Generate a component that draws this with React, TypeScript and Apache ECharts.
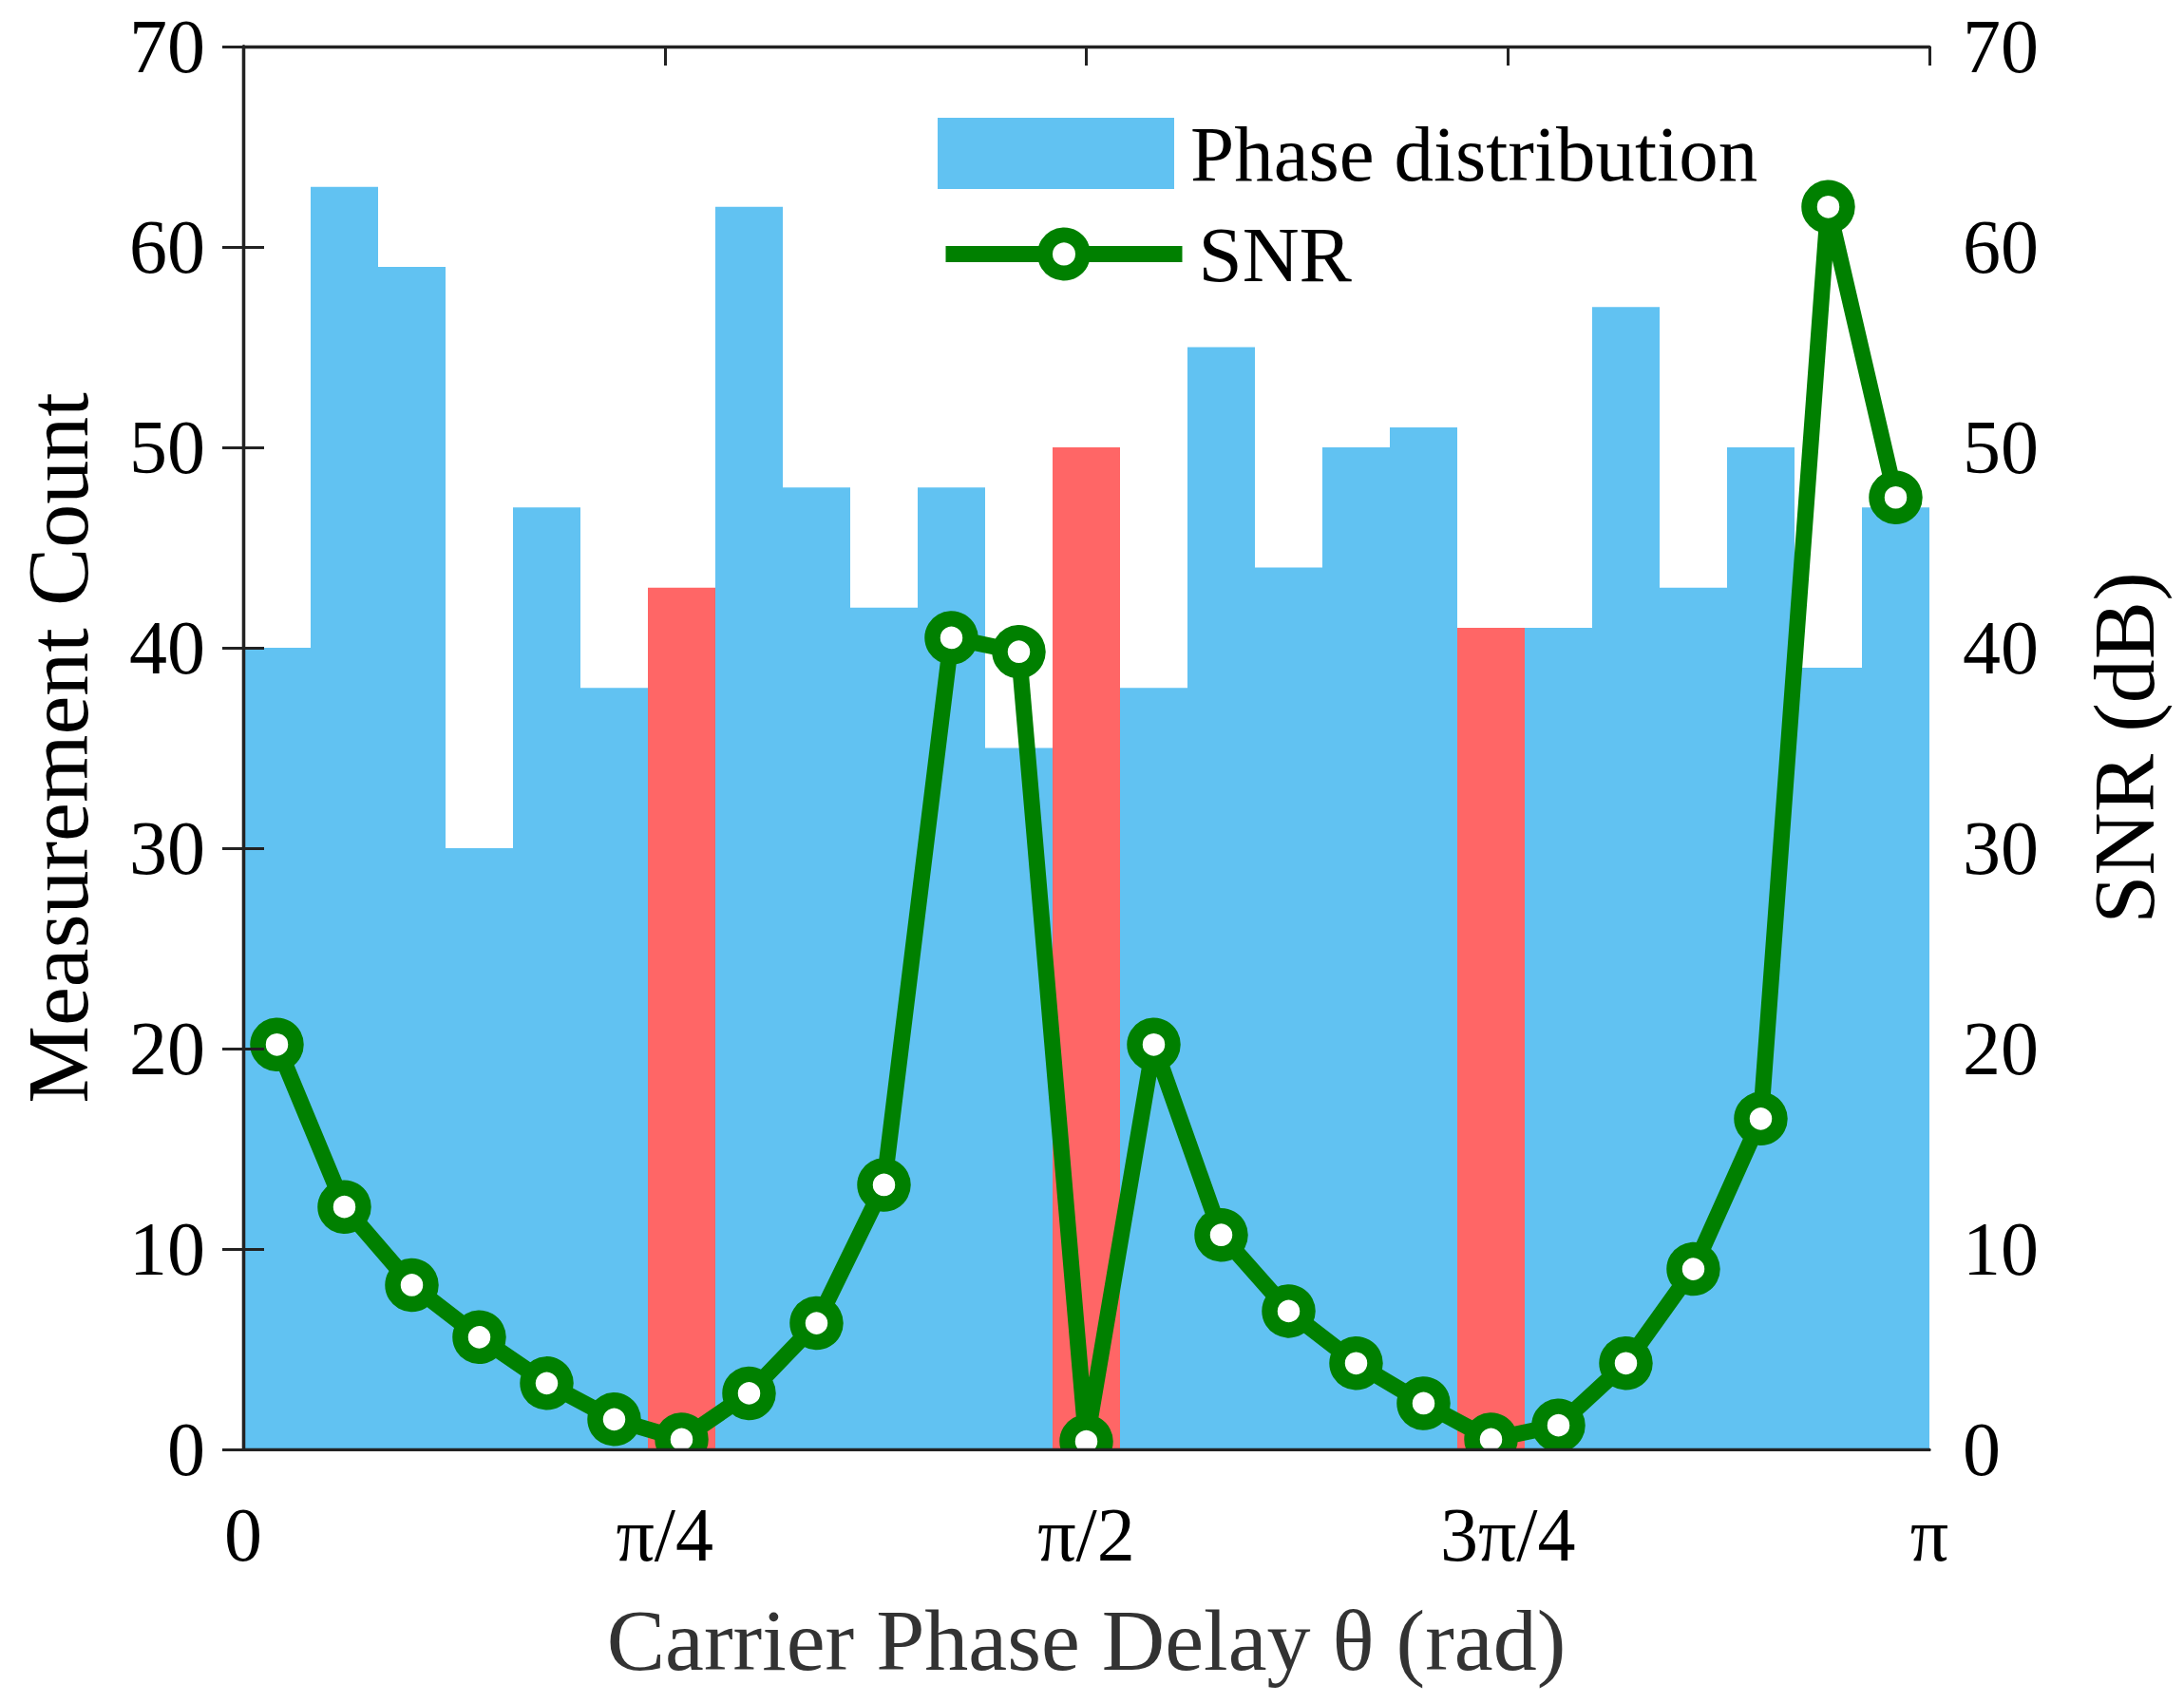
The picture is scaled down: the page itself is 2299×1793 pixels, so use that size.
import { useEffect, useRef } from 'react';
import * as echarts from 'echarts';

// histogram of measured carrier phase, 25 bins over [0, π]
const binLabels = Array.from({ length: 25 }, (_, i) => String(i + 1));
const phaseCounts = [40, 63, 59, 30, 47, 38, 43, 62, 48, 42, 48, 35, 50, 38, 55, 44, 50, 51, 41, 41, 57, 43, 50, 39, 47];
const nullBins = [6, 12, 18];
const snrDb = [20.2, 12.1, 8.2, 5.6, 3.3, 1.5, 0.5, 2.8, 6.3, 13.2, 40.5, 39.8, 0.4, 20.2, 10.7, 6.9, 4.3, 2.3, 0.5, 1.2, 4.3, 9.0, 16.5, 62.0, 47.5];
const phaseTickLabels = ['0', 'π/4', 'π/2', '3π/4', 'π'];

const FONT = "'Liberation Serif', 'Times New Roman', serif";
const BLUE = '#61c2f2';
const RED = '#ff6666';
const GREEN = '#008000';
const AXIS = '#222222';

export default function App() {
  const chartRef = useRef<HTMLDivElement>(null);

  useEffect(() => {
    if (!chartRef.current) return;
    const chart = echarts.init(chartRef.current, null, { renderer: 'svg' });

    const barData = phaseCounts.map((v, i) =>
      nullBins.includes(i) ? { value: v, itemStyle: { color: RED } } : v
    );

    const option: echarts.EChartsOption = {
      animation: false,
      backgroundColor: '#ffffff',
      textStyle: { fontFamily: FONT },
      grid: { left: 256, top: 49, width: 1775, height: 1477, containLabel: false },
      // markers sitting on zero are cut at the axis, as in the original plot
      graphic: [
        {
          type: 'rect',
          shape: { x: 230, y: 1528, width: 1830, height: 40 },
          style: { fill: '#ffffff' },
          z: 100,
        },
      ],
      legend: [
        {
          data: [{ name: 'Phase distribution', icon: 'rect' }],
          left: 987,
          top: 120,
          padding: 0,
          itemWidth: 249,
          itemHeight: 75,
          textStyle: { fontSize: 83, color: '#000', fontFamily: FONT, padding: [0, 0, 0, 12] },
        },
        {
          data: ['SNR'],
          left: 987,
          top: 226,
          padding: 0,
          itemWidth: 249,
          itemHeight: 50,
          itemStyle: { borderWidth: 16, borderColor: GREEN, color: '#fff' },
          lineStyle: { width: 17, color: GREEN },
          textStyle: { fontSize: 83, color: '#000', fontFamily: FONT, padding: [0, 0, 0, 12] },
        },
      ],
      xAxis: [
        {
          type: 'category',
          data: binLabels,
          position: 'bottom',
          z: 5,
          axisLine: { show: true, lineStyle: { color: AXIS, width: 3.3 } },
          axisTick: { show: false },
          axisLabel: { show: false },
          splitLine: { show: false },
        },
        {
          type: 'value',
          min: 0,
          max: 4,
          interval: 1,
          position: 'bottom',
          axisLine: { show: false },
          axisTick: { show: false },
          splitLine: { show: false },
          axisLabel: {
            fontSize: 80,
            color: '#000',
            fontFamily: FONT,
            margin: 50,
            formatter: (v: number) => phaseTickLabels[Math.round(v)] ?? '',
          },
          name: 'Carrier Phase Delay θ (rad)',
          nameLocation: 'middle',
          nameGap: 155,
          nameTextStyle: { fontSize: 92, color: '#333', fontFamily: FONT },
        },
        {
          type: 'value',
          min: 0,
          max: 4,
          interval: 1,
          position: 'top',
          z: 5,
          axisLine: { show: true, lineStyle: { color: AXIS, width: 3.3 } },
          axisTick: { show: true, inside: true, length: 20, lineStyle: { color: AXIS, width: 3 } },
          axisLabel: { show: false },
          splitLine: { show: false },
        },
      ],
      yAxis: [
        {
          type: 'value',
          min: 0,
          max: 70,
          interval: 10,
          position: 'left',
          z: 5,
          axisLine: { show: true, lineStyle: { color: AXIS, width: 3.3 } },
          axisTick: { show: true, inside: true, length: 22, lineStyle: { color: AXIS, width: 3 } },
          splitLine: { show: false },
          axisLabel: { fontSize: 80, color: '#000', fontFamily: FONT, margin: 40, padding: [6, 0, 0, 0] },
          name: 'Measurement Count',
          nameLocation: 'middle',
          nameGap: 149,
          nameTextStyle: { fontSize: 92, color: '#000', fontFamily: FONT },
        },
        {
          type: 'value',
          min: 0,
          max: 70,
          interval: 10,
          position: 'right',
          z: 5,
          axisLine: { show: true, lineStyle: { color: AXIS, width: 3.3 } },
          axisTick: { show: true, inside: true, length: 22, lineStyle: { color: AXIS, width: 3 } },
          splitLine: { show: false },
          axisLabel: { fontSize: 80, color: '#000', fontFamily: FONT, margin: 35, padding: [6, 0, 0, 0] },
          name: 'SNR (dB)',
          nameLocation: 'middle',
          nameGap: 159,
          nameTextStyle: { fontSize: 92, color: '#000', fontFamily: FONT },
        },
      ],
      series: [
        {
          name: 'Phase distribution',
          type: 'bar',
          xAxisIndex: 0,
          yAxisIndex: 0,
          data: barData,
          barCategoryGap: '0%',
          itemStyle: { color: BLUE },
          z: 1,
        },
        {
          name: 'SNR',
          type: 'line',
          xAxisIndex: 0,
          yAxisIndex: 1,
          data: snrDb,
          symbol: 'circle',
          symbolSize: 40,
          itemStyle: { color: '#ffffff', borderColor: GREEN, borderWidth: 16.5 },
          lineStyle: { color: GREEN, width: 17 },
          z: 3,
        },
      ],
    };

    chart.setOption(option);

    const handleResize = () => chart.resize();
    window.addEventListener('resize', handleResize);

    return () => {
      window.removeEventListener('resize', handleResize);
      chart.dispose();
    };
  }, []);

  return (
    <div
      ref={chartRef}
      style={{ position: 'fixed', left: 0, top: 0, width: 2299, height: 1793, background: '#fff' }}
    />
  );
}
